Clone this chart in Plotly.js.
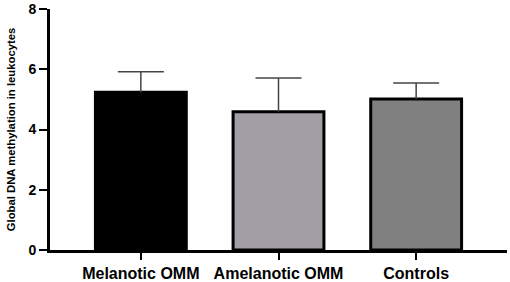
<!DOCTYPE html>
<html><head><script src="https://cdn.plot.ly/plotly-3.0.1.min.js"></script>
<style>body{margin:0}</style></head>
<body><div id="chart" style="width:510px;height:282px"></div>
<script>
const categories = ["Melanotic OMM", "Amelanotic OMM", "Controls"];
const means = [5.24, 4.59, 5.01];
const sdUpper = [0.68, 1.12, 0.53];
const barColors = ["#000000", "#a19fa5", "#808080"];

const xs = categories.map((c, i) => i);
const capHalf = 0.167;

// upper-only error bars drawn as line segments in data coordinates
const ex = [], ey = [];
xs.forEach((x, i) => {
  const top = means[i] + sdUpper[i];
  ex.push(x, x, null, x - capHalf, x + capHalf, null);
  ey.push(means[i], top, null, top, top, null);
});

const bars = {
  type: "bar",
  x: xs,
  y: means,
  width: 0.66,
  marker: {color: barColors, line: {color: "#000000", width: 3}},
  hoverinfo: "none"
};
const errs = {
  type: "scatter", mode: "lines", x: ex, y: ey,
  line: {color: "#444444", width: 1.5}, connectgaps: false, hoverinfo: "none"
};

const layout = {
  width: 510, height: 282,
  margin: {l: 50, r: 3, t: 9, b: 32},
  paper_bgcolor: "#ffffff", plot_bgcolor: "#ffffff",
  showlegend: false,
  xaxis: {
    range: [-0.66, 2.66], tickmode: "array", tickvals: xs, ticktext: categories,
    showgrid: false, zeroline: false, showline: true, linecolor: "#000", linewidth: 3,
    ticks: "outside", ticklen: 7, tickwidth: 2, tickcolor: "#000",
    tickfont: {family: "Liberation Sans, Arial, sans-serif", size: 16, color: "#000", weight: "bold"}
  },
  yaxis: {
    range: [0, 8], tickvals: [0, 2, 4, 6, 8],
    showgrid: false, zeroline: false, showline: true, linecolor: "#000", linewidth: 3,
    ticks: "outside", ticklen: 8, tickwidth: 2, tickcolor: "#000",
    tickfont: {family: "Liberation Sans, Arial, sans-serif", size: 14, color: "#000", weight: "bold"},
    title: {text: "Global DNA methylation in leukocytes", standoff: 11,
            font: {family: "Liberation Sans, Arial, sans-serif", size: 11.3, color: "#000", weight: "bold"}}
  }
};

Plotly.newPlot("chart", [bars, errs], layout, {displayModeBar: false, staticPlot: true});
</script></body></html>
